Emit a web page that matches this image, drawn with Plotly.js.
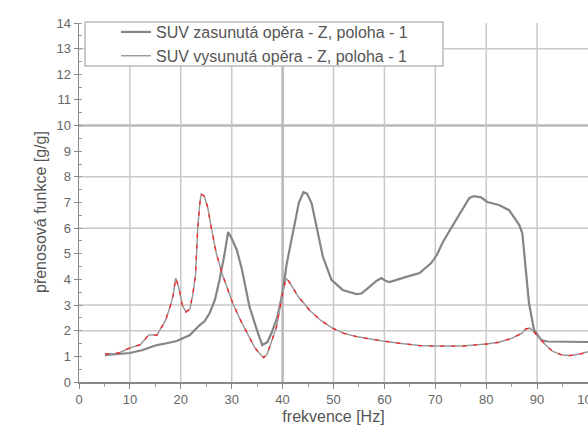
<!DOCTYPE html>
<html><head><meta charset="utf-8">
<script src="https://cdn.plot.ly/plotly-3.0.1.min.js"></script>
<style>html,body{margin:0;padding:0;background:#fff;}#chart{width:588px;height:429px;}</style>
</head><body><div id="chart"></div>
<script>
// Series 1: SUV zasunutá opěra
const freq1 = [5.1, 7, 10, 12.5, 15.3, 17, 19.2, 21.8, 23.5, 24.7, 25.7, 26.7, 27.6, 28.6, 29.3, 30, 31, 32, 33.5, 35, 36, 37, 37.8, 39, 40, 40.8, 41.5, 42.4, 43.2, 44.1, 44.8, 45.7, 46.8, 47.9, 49.6, 51.8, 54.5, 55.5, 57, 58.5, 59.4, 60.2, 61, 62.5, 64.3, 66.9, 69.2, 70.3, 71.4, 72.8, 74.1, 75.5, 76.7, 77.6, 79, 80.2, 82.5, 84.5, 86.5, 87.1, 87.8, 88.4, 89.4, 90.8, 92, 100];
const val1  = [1.05, 1.08, 1.13, 1.25, 1.44, 1.5, 1.6, 1.83, 2.18, 2.38, 2.7, 3.2, 3.98, 5.0, 5.85, 5.6, 5.15, 4.4, 2.93, 2.0, 1.44, 1.55, 1.9, 2.55, 3.5, 4.6, 5.3, 6.3, 7.0, 7.4, 7.35, 6.97, 6.0, 4.9, 3.98, 3.59, 3.43, 3.45, 3.7, 3.95, 4.05, 3.95, 3.9, 4.0, 4.1, 4.25, 4.64, 4.95, 5.42, 5.9, 6.32, 6.8, 7.18, 7.25, 7.2, 7.02, 6.9, 6.7, 6.12, 5.8, 4.37, 3.08, 2.03, 1.64, 1.58, 1.56];
// Series 2: SUV vysunutá opěra
const freq2 = [5.1, 7, 8, 10, 12, 13.7, 15.3, 16, 17, 18, 18.5, 19, 19.6, 20.3, 21, 21.8, 22.4, 22.9, 23.3, 23.7, 24, 24.6, 25.3, 26, 27, 28.2, 29, 30.2, 31.5, 33, 34.5, 35.5, 36.3, 37, 37.8, 38.8, 40, 40.7, 41.5, 43, 45.3, 47.5, 49.8, 52, 54.5, 57, 59.6, 63, 66.9, 70, 75.3, 80, 82.5, 85, 87, 87.8, 88.6, 89.4, 90.5, 91.7, 93, 94.9, 96.5, 98.6, 100];
const val2  = [1.1, 1.1, 1.15, 1.33, 1.45, 1.83, 1.83, 2.05, 2.4, 3.0, 3.4, 4.05, 3.7, 3.0, 2.73, 2.85, 3.47, 4.2, 5.9, 6.9, 7.33, 7.25, 6.8, 6.0, 5.0, 4.17, 3.7, 3.08, 2.5, 1.9, 1.35, 1.1, 0.95, 1.1, 1.6, 2.15, 3.46, 4.05, 3.85, 3.35, 2.8, 2.4, 2.1, 1.9, 1.77, 1.68, 1.6, 1.51, 1.42, 1.4, 1.4, 1.48, 1.55, 1.7, 1.9, 2.07, 2.1, 1.95, 1.7, 1.44, 1.2, 1.05, 1.03, 1.1, 1.18];
const seriesNames = ["SUV zasunutá opěra - Z, poloha - 1", "SUV vysunutá opěra - Z, poloha - 1"];
const xTitle = "frekvence [Hz]";
const yTitle = "přenosová funkce [g/g]";
const hGrid = [2, 3, 6, 8, 13];
const hGridBold = [10];
const vGrid = [10, 20, 30, 50, 60, 70, 80, 90];
const vGridBold = [40];

const shapes = [];
hGrid.forEach(v => shapes.push({type:'line', xref:'paper', x0:0, x1:1, yref:'y', y0:v, y1:v, line:{color:'#c8c8c8', width:1.5}, layer:'below'}));
hGridBold.forEach(v => shapes.push({type:'line', xref:'paper', x0:0, x1:1, yref:'y', y0:v, y1:v, line:{color:'#b8b8b8', width:2.5}, layer:'below'}));
vGrid.forEach(v => shapes.push({type:'line', yref:'paper', y0:0, y1:1, xref:'x', x0:v, x1:v, line:{color:'#c8c8c8', width:1.5}, layer:'below'}));
vGridBold.forEach(v => shapes.push({type:'line', yref:'paper', y0:0, y1:1, xref:'x', x0:v, x1:v, line:{color:'#b8b8b8', width:2.5}, layer:'below'}));
// legend frame
shapes.push({type:'rect', xref:'paper', yref:'paper', x0:0.0118, x1:0.715, y0:0.880, y1:1.0028,
             fillcolor:'#fff', line:{color:'#bbb', width:1.5}, layer:'above'});

const traces = [
  {x: freq1, y: val1, mode:'lines', name: seriesNames[0], line:{color:'#858585', width:2.2}},
  {x: freq2, y: val2, mode:'lines', name: seriesNames[1], line:{color:'#9a9a9a', width:1.5}},
  {x: freq2, y: val2, mode:'lines', showlegend:false, hoverinfo:'skip', line:{color:'#ff2020', width:1.3, dash:'4px,7px'}}
];

const layout = {
  width: 588, height: 429,
  margin: {l: 79, r: 0, t: 23, b: 47},
  paper_bgcolor: '#fff', plot_bgcolor: '#fff',
  font: {family: '"Liberation Sans", Arial, sans-serif', color: '#666', size: 13},
  showlegend: true,
  legend: {x: (116-79)/509, y: (382-15)/359, xanchor: 'left', yanchor: 'top', bgcolor: 'rgba(0,0,0,0)', borderwidth: 0,
           font: {size: 16, color: '#555'}, tracegroupgap: 0},
  xaxis: {range: [0, 100], showgrid: false, zeroline: false, showline: true, linecolor: '#888', linewidth: 1.5,
          tickmode: 'linear', tick0: 0, dtick: 10, ticks: 'outside', ticklen: 5, tickcolor: '#888',
          minor: {tickmode: 'linear', tick0: 0, dtick: 5, ticks: 'outside', ticklen: 3, tickcolor: '#999'},
          tickfont: {size: 13, color: '#666'}, ticklabeloverflow: 'allow',
          title: {text: xTitle, font: {size: 16, color: '#555'}, standoff: 4}},
  yaxis: {range: [0, 14], showgrid: false, zeroline: false, showline: true, linecolor: '#888', linewidth: 1.5,
          tickmode: 'linear', tick0: 0, dtick: 1, ticks: 'outside', ticklen: 4, tickcolor: '#888',
          minor: {tickmode: 'linear', tick0: 0, dtick: 0.5, ticks: 'inside', ticklen: 3, tickcolor: '#999'},
          tickfont: {size: 13, color: '#666'}},
  annotations: [{text: yTitle, xref:'paper', yref:'paper', x:(40-79)/509, y:(382-212)/359, xanchor:'center', yanchor:'middle',
                 textangle:-90, showarrow:false, font:{size:16, color:'#555'}}],
  shapes: shapes
};

Plotly.newPlot('chart', traces, layout, {displayModeBar: false, staticPlot: true});
</script>
</body></html>
